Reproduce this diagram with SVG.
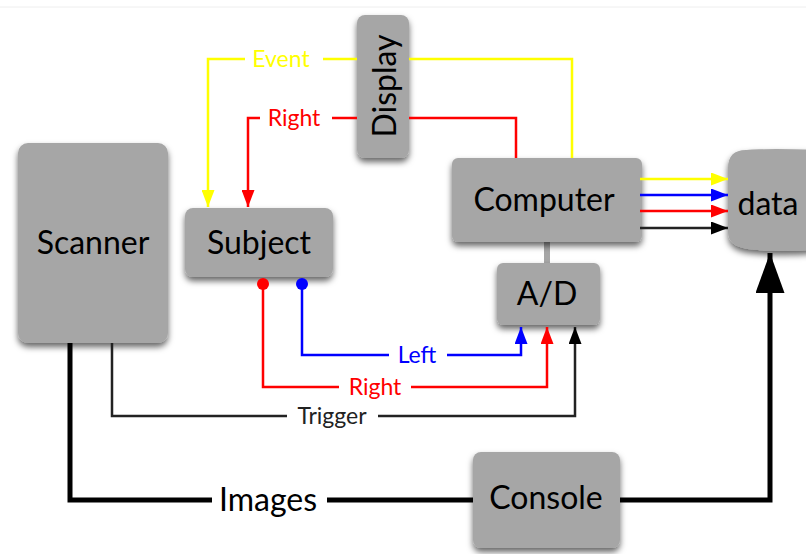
<svg xmlns="http://www.w3.org/2000/svg" width="806" height="554" viewBox="0 0 806 554">
<style>
.box{fill:#a6a6a6;filter:url(#sh)}
.big{font-family:Lato,"Liberation Sans",sans-serif;font-size:32px;fill:#000;text-anchor:middle}
.lbl{font-family:Lato,"Liberation Sans",sans-serif;font-size:23px;text-anchor:middle}
.c{fill:none;stroke-linejoin:miter}
.y{stroke:#ffff00;stroke-width:2.5}
.r{stroke:#ff0000;stroke-width:2.5}
.b{stroke:#0000ff;stroke-width:2.5}
.k{stroke:#222;stroke-width:2.5}
.K{stroke:#000;stroke-width:5}
</style>
<defs>
<filter id="sh" x="-20%" y="-20%" width="140%" height="150%">
<feDropShadow dx="0" dy="4" stdDeviation="3" flood-color="#000" flood-opacity="0.6"/>
</filter>
<marker id="ay" markerUnits="userSpaceOnUse" markerWidth="18" markerHeight="13" refX="17" refY="6.5" orient="auto"><path d="M0,0 L17,6.5 L0,13 z" fill="#ffff00"/></marker>
<marker id="ar" markerUnits="userSpaceOnUse" markerWidth="18" markerHeight="13" refX="17" refY="6.5" orient="auto"><path d="M0,0 L17,6.5 L0,13 z" fill="#ff0000"/></marker>
<marker id="ab" markerUnits="userSpaceOnUse" markerWidth="18" markerHeight="13" refX="17" refY="6.5" orient="auto"><path d="M0,0 L17,6.5 L0,13 z" fill="#0000ff"/></marker>
<marker id="ak" markerUnits="userSpaceOnUse" markerWidth="18" markerHeight="13" refX="17" refY="6.5" orient="auto"><path d="M0,0 L17,6.5 L0,13 z" fill="#000"/></marker>
<marker id="aK" markerUnits="userSpaceOnUse" markerWidth="41" markerHeight="29" refX="40" refY="14.5" orient="auto"><path d="M0,0 L40,14.5 L0,29 z" fill="#000"/></marker>
<marker id="dr" markerUnits="userSpaceOnUse" markerWidth="13" markerHeight="13" refX="6.5" refY="6.5"><circle cx="6.5" cy="6.5" r="6" fill="#ff0000"/></marker>
<marker id="db" markerUnits="userSpaceOnUse" markerWidth="13" markerHeight="13" refX="6.5" refY="6.5"><circle cx="6.5" cy="6.5" r="6" fill="#0000ff"/></marker>
</defs>
<rect width="806" height="554" fill="#fff"/>
<line x1="0" y1="7" x2="806" y2="7" stroke="#eeeeee" stroke-width="1"/>

<g id="link-computer-ad"><line x1="547" y1="240" x2="547" y2="265" stroke="#a6a6a6" stroke-width="6"/></g>

<g id="scanner"><rect class="box" x="18" y="143" width="150" height="200" rx="10"/><text class="big" x="93" y="254">Scanner</text></g>
<g id="subject"><rect class="box" x="185" y="208" width="148" height="69" rx="8"/><text class="big" x="259" y="254">Subject</text></g>
<g id="display"><rect class="box" x="357" y="15" width="52" height="143" rx="8"/><text class="big" transform="translate(396,86) rotate(-90)" x="0" y="0">Display</text></g>
<g id="computer"><rect class="box" x="452" y="158" width="190" height="84" rx="6"/><text class="big" x="544" y="211">Computer</text></g>
<g id="ad"><rect class="box" x="497" y="263" width="103" height="62" rx="6"/><text class="big" x="547" y="305">A/D</text></g>
<g id="data"><path class="box" d="M728,168 Q728,150 746,150 Q770,148 820,150 L820,249 Q780,253 748,249 Q728,246 728,232 Z"/><text class="big" x="768" y="215">data</text></g>
<g id="console"><rect class="box" x="473" y="452" width="147" height="96" rx="8"/><text class="big" x="546" y="509">Console</text></g>

<g id="connectors">
<path class="c y" d="M245,59 L208,59 L208,207" marker-end="url(#ay)"/>
<line class="c y" x1="323" y1="59" x2="357" y2="59"/>
<path class="c y" d="M409,59 L572,59 L572,158"/>
<path class="c r" d="M260,118 L248,118 L248,207" marker-end="url(#ar)"/>
<line class="c r" x1="332" y1="118" x2="357" y2="118"/>
<path class="c r" d="M409,118 L516,118 L516,158"/>

<line class="c y" x1="640" y1="179" x2="728" y2="179" marker-end="url(#ay)"/>
<line class="c b" x1="640" y1="195" x2="728" y2="195" marker-end="url(#ab)"/>
<line class="c r" x1="640" y1="211" x2="728" y2="211" marker-end="url(#ar)"/>
<line class="c k" x1="640" y1="228" x2="728" y2="228" marker-end="url(#ak)"/>

<path class="c r" d="M263,284 L263,387 L339,387" marker-start="url(#dr)"/>
<path class="c r" d="M411,387 L547,387 L547,327" marker-end="url(#ar)"/>
<path class="c b" d="M302,284 L302,355 L389,355" marker-start="url(#db)"/>
<path class="c b" d="M447,355 L521,355 L521,327" marker-end="url(#ab)"/>
<path class="c k" d="M112,343 L112,416 L287,416"/>
<path class="c k" d="M378,416 L575,416 L575,327" marker-end="url(#ak)"/>

<path class="c K" d="M70,343 L70,500 L212,500"/>
<line class="c K" x1="327" y1="500" x2="473" y2="500"/>
<path class="c K" d="M620,500 L770,500 L770,253" marker-end="url(#aK)"/>

<text class="lbl" x="281" y="67" fill="#ffff00">Event</text>
<text class="lbl" x="294" y="126" fill="#ff0000">Right</text>
<text class="lbl" x="417" y="363" fill="#0000ff">Left</text>
<text class="lbl" x="375" y="395" fill="#ff0000">Right</text>
<text class="lbl" x="332" y="424" fill="#222">Trigger</text>
<text class="big" x="268" y="511">Images</text>
</g>
</svg>
